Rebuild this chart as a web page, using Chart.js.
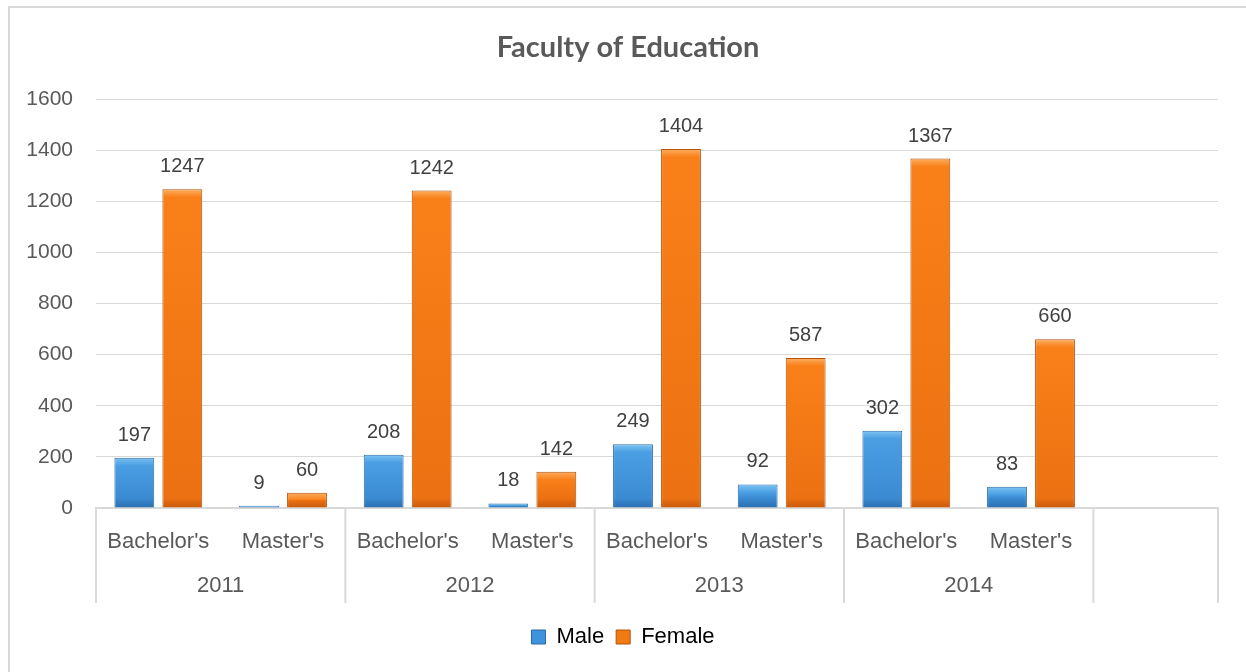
<!DOCTYPE html>
<html>
<head>
<meta charset="utf-8">
<script src="https://cdn.jsdelivr.net/npm/chart.js@4"></script>
<style>
  html, body { margin: 0; padding: 0; background: #fff; }
  #wrap { position: relative; width: 1246px; height: 672px; }
  #frame { position: absolute; left: 8px; top: 6px; width: 1260px; height: 700px; border: 2px solid #d9d9d9; box-sizing: border-box; }
  canvas { position: absolute; left: 0; top: 0; }
</style>
</head>
<body>
<div id="wrap">
  <div id="frame"></div>
  <canvas id="chart" width="1246" height="672"></canvas>
</div>
<script>
// Faculty of Education enrolment, by year and degree
var chartTitle = 'Faculty of Education';
var years = ['2011', '2012', '2013', '2014'];
var categories = ["Bachelor's", "Master's", "Bachelor's", "Master's", "Bachelor's", "Master's", "Bachelor's", "Master's", ""];
var maleValues = [197, 9, 208, 18, 249, 92, 302, 83, null];
var femaleValues = [1247, 60, 1242, 142, 1404, 587, 1367, 660, null];
var yTicks = [0, 200, 400, 600, 800, 1000, 1200, 1400, 1600];

var FONT = 'Arial, "Liberation Sans", sans-serif';
var TEXT = '#595959';

function barFill(stops) {
  return function(c) {
    var chart = c.chart;
    var ys = chart.scales && chart.scales.y;
    if (!ys || c.raw == null || !chart.chartArea) return stops[1];
    var top = ys.getPixelForValue(c.raw);
    var bot = ys.getPixelForValue(0);
    if (bot - top < 2) return stops[1];
    var g = chart.ctx.createLinearGradient(0, top, 0, bot);
    g.addColorStop(0, stops[0]);
    g.addColorStop(Math.min(0.5, 8 / (bot - top)), stops[1]);
    g.addColorStop(Math.max(0.5, 1 - 10 / (bot - top)), stops[2]);
    g.addColorStop(1, stops[3]);
    return g;
  };
}

// title centred on the whole frame, not on the plot
var frameTitle = {
  id: 'frameTitle',
  afterDraw: function(chart) {
    var ctx = chart.ctx;
    ctx.save();
    ctx.fillStyle = TEXT;
    ctx.font = 'bold 29px Lato, "Noto Sans", sans-serif';
    ctx.textAlign = 'center';
    ctx.textBaseline = 'middle';
    ctx.fillText(chartTitle, chart.width / 2 + 5, 48);
    ctx.restore();
  }
};

// year labels + separator lines under the category axis
var yearAxis = {
  id: 'yearAxis',
  afterDraw: function(chart) {
    var x = chart.scales.x;
    var ctx = chart.ctx;
    var bottom = chart.chartArea.bottom;
    var half = (x.getPixelForValue(1) - x.getPixelForValue(0)) / 2;
    ctx.save();
    ctx.strokeStyle = '#d9d9d9';
    ctx.lineWidth = 2;
    var edges = [];
    for (var i = 0; i <= years.length; i++) edges.push(x.getPixelForValue(i * 2) - half);
    edges.push(x.getPixelForValue(categories.length - 1) + half);
    edges.forEach(function(px) {
      ctx.beginPath();
      ctx.moveTo(px, bottom);
      ctx.lineTo(px, bottom + 95);
      ctx.stroke();
    });
    ctx.fillStyle = TEXT;
    ctx.font = '22px ' + FONT;
    ctx.textAlign = 'center';
    ctx.textBaseline = 'middle';
    years.forEach(function(yr, k) {
      var cx = (x.getPixelForValue(k * 2) + x.getPixelForValue(k * 2 + 1)) / 2;
      ctx.fillText(yr, cx, bottom + 78);
    });
    ctx.restore();
  }
};

var valueLabels = {
  id: 'valueLabels',
  afterDatasetsDraw: function(chart) {
    var ctx = chart.ctx;
    ctx.save();
    ctx.fillStyle = '#404040';
    ctx.font = '20px ' + FONT;
    ctx.textAlign = 'center';
    ctx.textBaseline = 'alphabetic';
    chart.data.datasets.forEach(function(ds, di) {
      chart.getDatasetMeta(di).data.forEach(function(bar, i) {
        if (ds.data[i] == null) return;
        ctx.fillText(String(ds.data[i]), bar.x, bar.y - 17);
      });
    });
    ctx.restore();
  }
};

new Chart(document.getElementById('chart'), {
  type: 'bar',
  data: {
    labels: categories,
    datasets: [
      {
        label: 'Male',
        data: maleValues,
        backgroundColor: barFill(['#7cc4f2', '#4a9ee2', '#3b8bd3', '#2a6eb0']),
        borderColor: '#2b6aa6',
        borderWidth: 1,
        categoryPercentage: 0.77,
        barPercentage: 0.83
      },
      {
        label: 'Female',
        data: femaleValues,
        backgroundColor: barFill(['#fdae60', '#f98019', '#ec7112', '#c8590b']),
        borderColor: '#b4520a',
        borderWidth: 1,
        categoryPercentage: 0.77,
        barPercentage: 0.83
      }
    ]
  },
  options: {
    responsive: false,
    animation: false,
    layout: { padding: { left: 0, right: 0, top: 99, bottom: 14 } },
    plugins: {
      title: { display: false },
      legend: {
        position: 'bottom',
        labels: {
          color: TEXT,
          font: { family: FONT, size: 22 },
          boxWidth: 14,
          boxHeight: 14,
          padding: 12,
          generateLabels: function(chart) {
            return [
              { text: 'Male', fillStyle: '#3f92dc', strokeStyle: '#2b6aa6', lineWidth: 1, datasetIndex: 0 },
              { text: 'Female', fillStyle: '#f27a15', strokeStyle: '#b4520a', lineWidth: 1, datasetIndex: 1 }
            ];
          }
        }
      },
      tooltip: { enabled: false }
    },
    scales: {
      x: {
        grid: { display: false, drawTicks: false },
        border: { display: true, color: '#d9d9d9', width: 2 },
        ticks: { color: TEXT, font: { family: FONT, size: 22 }, padding: 21, maxRotation: 0, autoSkip: false },
        afterFit: function(s) { s.height = 106; }
      },
      y: {
        min: 0,
        max: 1600,
        afterBuildTicks: function(s) { s.ticks = yTicks.map(function(v) { return { value: v }; }); },
        grid: { color: '#d9d9d9', lineWidth: 1, drawTicks: false },
        border: { display: false },
        ticks: {
          color: TEXT,
          font: { family: FONT, size: 21 },
          padding: 23,
          callback: function(v) { return String(v); }
        },
        afterFit: function(s) { s.width = 96; }
      },
      // empty right margin so the legend sits centred on the frame
      yRight: {
        position: 'right',
        min: 0,
        max: 1600,
        grid: { display: false, drawTicks: false },
        border: { display: false },
        ticks: { display: false },
        afterFit: function(s) { s.width = 28; }
      }
    }
  },
  plugins: [frameTitle, yearAxis, valueLabels]
});
</script>
</body>
</html>
